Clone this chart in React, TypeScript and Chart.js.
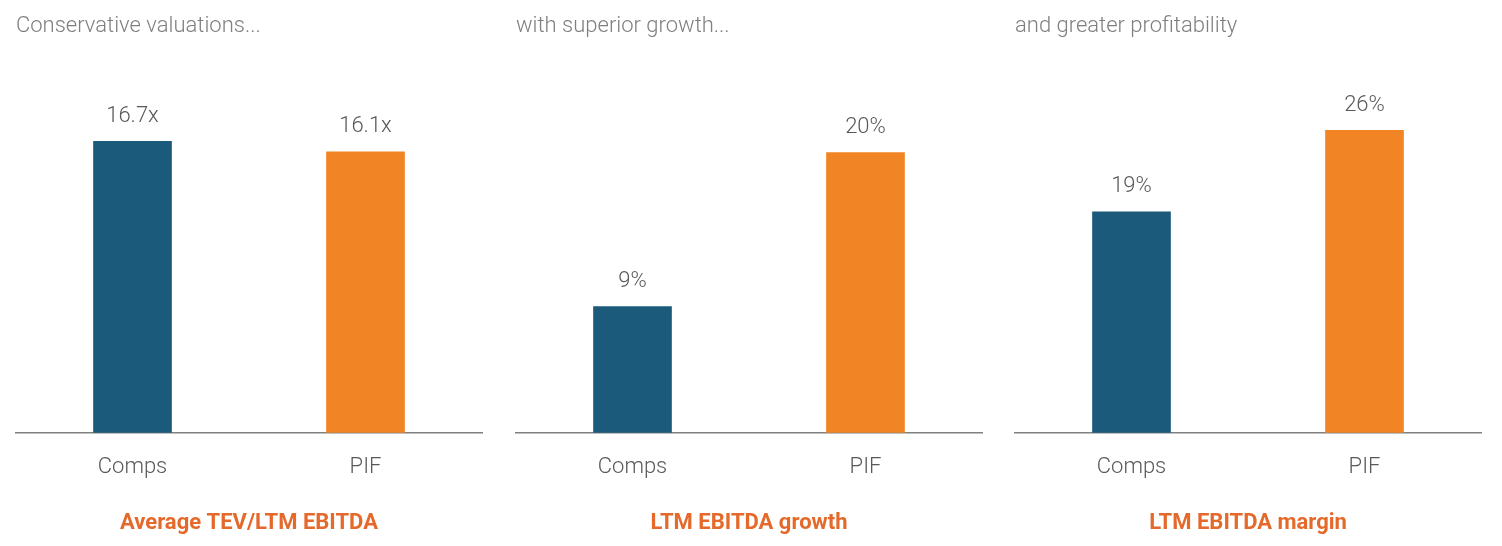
import React, { useEffect, useRef } from "react";
import { Chart, registerables } from "chart.js";

Chart.register(...registerables);

const categories = ["Comps", "PIF"];
const panelTitles = ["Conservative valuations...", "with superior growth...", "and greater profitability"];
const panelSubtitles = ["Average TEV/LTM EBITDA", "LTM EBITDA growth", "LTM EBITDA margin"];
const valuationValues = [16.7, 16.1];
const growthValues = [9, 20];
const marginValues = [19, 26];
const valueSuffixes = ["x", "%", "%"];
const valueDecimals = [1, 0, 0];
const axisMax = [21.0, 26.15, 31.5];

const panelValues = [valuationValues, growthValues, marginValues];
const panelLefts = [0, 500, 999];
const PANEL_W = 500;
const PANEL_H = 546;
const FONT = "Roboto, 'Open Sans', sans-serif";
const BLUE = "#1B5A7B";
const ORANGE = "#F18425";
const SUB_ORANGE = "#E4692A";

const valueLabelPlugin = {
  id: "valueLabels",
  afterDatasetsDraw(chart: any, _args: any, opts: any) {
    const ctx = chart.ctx;
    const meta = chart.getDatasetMeta(0);
    const data = chart.data.datasets[0].data as number[];
    ctx.save();
    ctx.font = `300 22px ${FONT}`;
    ctx.fillStyle = "#595959";
    ctx.textAlign = "center";
    ctx.textBaseline = "middle";
    meta.data.forEach((bar: any, i: number) => {
      const txt = data[i].toFixed(opts.decimals) + opts.suffix;
      ctx.fillText(txt, bar.x, bar.y - 25);
    });
    ctx.restore();
  },
};

function Panel({ idx }: { idx: number }) {
  const ref = useRef<HTMLCanvasElement>(null);
  useEffect(() => {
    if (!ref.current) return;
    const chart = new Chart(ref.current, {
      type: "bar",
      data: {
        labels: categories,
        datasets: [
          {
            data: panelValues[idx],
            backgroundColor: [BLUE, ORANGE],
            barThickness: 78,
            borderWidth: 0,
          },
        ],
      },
      plugins: [valueLabelPlugin],
      options: {
        animation: false,
        responsive: false,
        maintainAspectRatio: false,
        layout: { padding: { left: 16, right: 18, top: 0, bottom: 9.5 } },
        plugins: {
          legend: { display: false },
          tooltip: { enabled: false },
          title: {
            display: true,
            text: panelTitles[idx],
            align: "start",
            color: "#7F7F7F",
            font: { family: FONT, size: 22, weight: 300 as any },
            padding: { top: 13, bottom: 27 },
          },
          valueLabels: { suffix: valueSuffixes[idx], decimals: valueDecimals[idx] },
        } as any,
        scales: {
          x: {
            grid: { display: false, drawTicks: false },
            border: { display: true, color: "#808080", width: 1.5 },
            ticks: {
              color: "#595959",
              font: { family: FONT, size: 22, weight: 300 as any },
              padding: 22,
            },
            title: {
              display: true,
              text: panelSubtitles[idx],
              color: SUB_ORANGE,
              font: { family: FONT, size: 22, weight: "bold" },
              padding: { top: 7, bottom: 0 },
            },
          },
          y: { display: false, min: 0, max: axisMax[idx] },
        },
      },
    });
    return () => chart.destroy();
  }, [idx]);
  return (
    <div style={{ position: "absolute", left: panelLefts[idx], top: 0, width: PANEL_W, height: PANEL_H }}>
      <canvas ref={ref} width={PANEL_W} height={PANEL_H} style={{ width: PANEL_W, height: PANEL_H }} />
    </div>
  );
}

export default function App() {
  return (
    <div style={{ position: "fixed", left: 0, top: 0, width: 1502, height: 546, background: "#fff" }}>
      {[0, 1, 2].map((i) => (
        <Panel key={i} idx={i} />
      ))}
    </div>
  );
}
